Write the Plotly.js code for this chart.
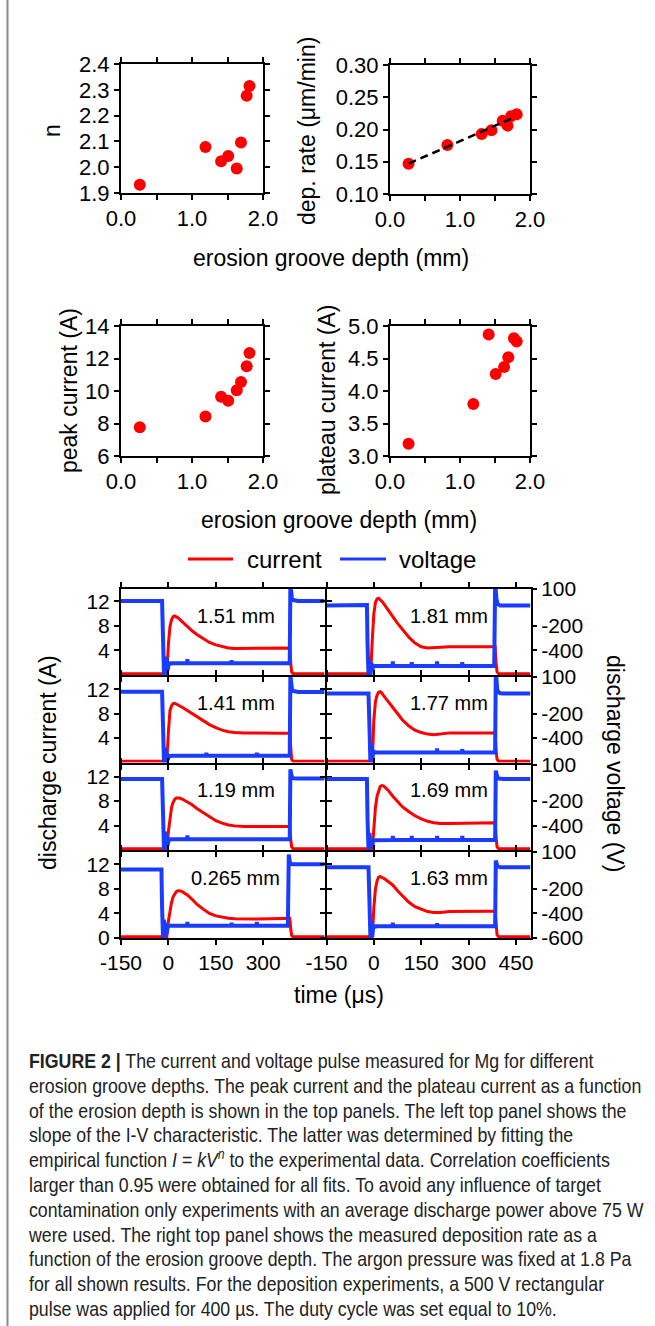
<!DOCTYPE html>
<html><head><meta charset="utf-8">
<script src="https://cdn.plot.ly/plotly-3.0.1.min.js"></script>
<style>
html,body{margin:0;padding:0;background:#fff;}
#wrap{position:relative;width:655px;height:1326px;overflow:hidden;}
#chart{position:absolute;left:0;top:0;width:655px;height:1326px;}
#caption{position:absolute;left:29px;top:1049px;width:700px;font-family:"Liberation Sans",Arial,sans-serif;font-size:21px;line-height:24.8px;color:#222;}
#caption div{white-space:nowrap;height:24.8px;transform:scaleX(0.845);transform-origin:0 50%;}
#caption sup{font-size:14px;line-height:0;vertical-align:0.55em;}
</style>
</head><body><div id="wrap"><div id="chart"></div><div id="caption"></div></div>
<script>
// ---------- scatter panel data ----------
const depth = [0.265, 1.19, 1.41, 1.51, 1.63, 1.69, 1.77, 1.81];
const nExponent = [1.932, 2.078, 2.023, 2.043, 1.995, 2.096, 2.277, 2.315];
const peakCurrent = [7.77, 8.43, 9.65, 9.4, 10.05, 10.56, 11.53, 12.34];
const plateauCurrent = [3.19, 3.80, 4.87, 4.26, 4.37, 4.52, 4.81, 4.76];
const depDepth = [0.265, 0.82, 1.31, 1.45, 1.61, 1.68, 1.73, 1.81];
const depRate = [0.147, 0.176, 0.193, 0.199, 0.2135, 0.206, 0.2206, 0.2237];
const fitX = [0.265, 1.78];
const fitY = [0.147, 0.219];

// ---------- pulse waveform data ----------
const pulseLabels = ['1.51 mm','1.81 mm','1.41 mm','1.77 mm','1.19 mm','1.69 mm','0.265 mm','1.63 mm'];
const tCur = [-150,-10,-5,0,5,10,15,20,25,30,35,45,60,75,90,110,130,150,170,190,210,240,280,320,360,384,387,390,395,495];
const cur151 = [0.2,0.2,0.2,5.0,7.9,9.0,9.5,9.6,9.5,9.3,9.1,8.6,7.9,7.2,6.6,5.9,5.3,4.9,4.6,4.4,4.3,4.3,4.3,4.35,4.4,4.4,2.0,0.5,0.2,0.2];
const cur181 = [0.2,0.2,5.8,10.0,11.8,12.4,12.5,12.3,12.0,11.7,11.3,10.6,9.5,8.4,7.4,6.2,5.2,4.6,4.4,4.45,4.55,4.6,4.6,4.6,4.6,4.6,2.0,0.5,0.2,0.2];
const cur141 = [0.2,0.2,0.2,5.0,8.5,9.3,9.65,9.7,9.6,9.5,9.3,9.0,8.5,8.0,7.5,6.9,6.2,5.7,5.3,5.05,4.9,4.85,4.8,4.85,4.8,4.8,2.0,0.5,0.2,0.2];
const cur177 = [0.2,0.2,0.2,7.0,10.0,11.0,11.5,11.6,11.4,11.0,10.7,10.0,9.0,7.9,7.0,6.0,5.3,4.9,4.65,4.55,4.7,4.85,4.85,4.85,4.85,4.85,2.0,0.5,0.2,0.2];
const cur119 = [0.2,0.2,0.2,3.0,5.5,7.0,7.8,8.3,8.5,8.55,8.5,8.3,7.9,7.4,6.8,6.1,5.4,4.8,4.4,4.1,3.95,3.85,3.85,3.85,3.85,3.85,1.8,0.5,0.2,0.2];
const cur169 = [0.2,0.2,0.2,3.5,7.0,8.8,9.8,10.4,10.55,10.5,10.3,9.8,8.8,7.9,7.1,6.3,5.6,5.1,4.7,4.45,4.35,4.35,4.4,4.45,4.45,4.45,2.0,0.5,0.2,0.2];
const cur0265 = [0.2,0.2,0.2,2.75,4.5,5.8,6.7,7.2,7.55,7.7,7.7,7.5,7.0,6.3,5.5,4.7,4.0,3.6,3.35,3.2,3.15,3.1,3.1,3.15,3.2,3.2,1.5,0.4,0.2,0.2];
const cur163 = [0.2,0.2,0.2,5.0,8.0,9.3,9.9,10.0,9.9,9.8,9.6,9.2,8.6,7.7,6.9,5.85,5.1,4.65,4.3,4.15,4.15,4.3,4.35,4.35,4.35,4.35,2.0,0.5,0.2,0.2];

const tVolt = [-150,-22,-20,-17,-14,-11,-8,-5,-2,1,5,10,59,60,61,119,120,121,199,200,201,279,280,281,378,381,384,386,388,391,395,400,410,495];
const volt151 = [2,2,2,-300,-600,-450,-590,-470,-560,-500,-510,-505, -505,-470,-505, -505,-505,-505, -505,-480,-505, -505,-505,-505, -505,-505,-505,150,40,20,10,5,2,2];
const volt181 = [-35,-30,-350,-600,-480,-600,-500,-560,-525,-530,-526,-526, -526,-490,-526, -526,-495,-526, -526,-490,-526, -526,-495,-526, -526,-526,150,60,20,-20,-30,-35,-35,-35];
const volt141 = [-20,-20,-20,-300,-600,-480,-600,-520,-580,-545,-550,-545, -545,-545,-545, -545,-520,-545, -545,-545,-545, -545,-520,-545, -545,-545,-545,120,30,0,-15,-20,-22,-22];
const volt177 = [-36,-36,-36,-36,-300,-600,-450,-590,-500,-520,-518,-518, -518,-518,-518, -518,-518,-518, -518,-485,-518, -518,-490,-518, -518,-518,-518,150,40,-10,-25,-33,-36,-36];
const volt119 = [-18,-18,-18,-300,-600,-450,-590,-480,-560,-510,-515,-512, -512,-480,-512, -512,-512,-512, -512,-512,-512, -512,-512,-512, -512,-512,-512,60,10,-5,-12,-15,-15,-15];
const volt169 = [-18,-18,-350,-600,-460,-590,-500,-560,-520,-520,-519,-519, -519,-485,-519, -519,-485,-519, -519,-485,-519, -519,-485,-519, -519,-519,-519,50,10,-5,-15,-18,-18,-18];
const volt0265 = [-43,-43,-350,-600,-450,-590,-480,-560,-500,-505,-500,-500, -500,-470,-500, -500,-500,-500, -500,-475,-500, -500,-470,-500, -500,80,20,5,2,0,0,0,0,0];
const volt163 = [-25,-25,-25,-25,-300,-600,-460,-590,-500,-505,-508,-505, -505,-475,-505, -505,-505,-505, -505,-480,-505, -505,-505,-505, -505,-505,-505,30,0,-15,-20,-25,-25,-25];

const currentSeries = [cur151, cur181, cur141, cur177, cur119, cur169, cur0265, cur163];
const voltageSeries = [volt151, volt181, volt141, volt177, volt119, volt169, volt0265, volt163];

const leftTimeTicks = [-150, 0, 150, 300];
const leftTimeText = ['-150', '0', '150', '300'];
const rightTimeTicks = [-150, 0, 150, 300, 450];
const rightTimeText = ['-150', '0', '150', '300', '450'];
const currentTicksTop = [4, 8, 12];
const currentTicksBottom = [0, 4, 8, 12];
const voltageTicksTop = [-400, -200, 100];
const voltageTextTop = ['-400', '-200', '100'];
const voltageTicksBottom = [-600, -400, -200, 100];
const voltageTextBottom = ['-600', '-400', '-200', '100'];

const captionLines = [
  '<b>FIGURE 2 |</b> The current and voltage pulse measured for Mg for different',
  'erosion groove depths. The peak current and the plateau current as a function',
  'of the erosion depth is shown in the top panels. The left top panel shows the',
  'slope of the I-V characteristic. The latter was determined by fitting the',
  'empirical function <i>I</i> = <i>kV<sup>n</sup></i> to the experimental data. Correlation coefficients',
  'larger than 0.95 were obtained for all fits. To avoid any influence of target',
  'contamination only experiments with an average discharge power above 75 W',
  'were used. The right top panel shows the measured deposition rate as a',
  'function of the erosion groove depth. The argon pressure was fixed at 1.8 Pa',
  'for all shown results. For the deposition experiments, a 500 V rectangular',
  'pulse was applied for 400 \u00b5s. The duty cycle was set equal to 10%.'
];

// ---------- styling / layout ----------
const FONT = '"Liberation Sans", Arial, Helvetica, sans-serif';
const RED = '#ff0000', BLUE = 'rgb(25,60,255)';
const W = 655, H = 1326;
const pxX = (a, b) => [a / W, b / W];
const pxY = (top, bottom) => [1 - bottom / H, 1 - top / H];
function tf(size){ return {family:FONT, size:size, color:'#000'}; }

const axBase = {showline:true, linecolor:'#000', linewidth:2, ticks:'outside', ticklen:5, tickwidth:2,
  tickcolor:'#000', mirror:'ticks', showgrid:false, zeroline:false, fixedrange:true};

const layout = {width:W, height:H, margin:{l:0,r:0,t:0,b:0}, paper_bgcolor:'#fff', plot_bgcolor:'rgba(0,0,0,0)',
  showlegend:false, font:{family:FONT, color:'#000'}, shapes:[], annotations:[]};
const data = [];

// scatter panels
const scat = [
  {id:1, xd:pxX(121,263), yd:pxY(64,193), yr:[1.9,2.4], dt:0.1, fmt:'.1f', x:depth, y:nExponent},
  {id:2, xd:pxX(390,530), yd:pxY(65,194), yr:[0.1,0.3], dt:0.05, fmt:'.2f', x:depDepth, y:depRate},
  {id:3, xd:pxX(121,263), yd:pxY(326,456), yr:[6,14], dt:2, fmt:'d', x:depth, y:peakCurrent},
  {id:4, xd:pxX(390,530), yd:pxY(326,456), yr:[3,5], dt:0.5, fmt:'.1f', x:depth, y:plateauCurrent}
];
scat.forEach(p => {
  const s = p.id === 1 ? '' : p.id;
  layout['xaxis'+s] = Object.assign({}, axBase, {domain:p.xd, anchor:'y'+s, range:[0,2],
    tickmode:'linear', tick0:0, dtick:1, tickformat:'.1f', tickfont:tf(22),
    minor:{dtick:0.5, tick0:0, ticks:'outside', ticklen:5, tickwidth:2, tickcolor:'#000', showgrid:false}});
  layout['yaxis'+s] = Object.assign({}, axBase, {domain:p.yd, anchor:'x'+s, range:p.yr,
    tickmode:'linear', tick0:p.yr[0], dtick:p.dt, tickformat:p.fmt, tickfont:tf(22)});
  data.push({type:'scatter', mode:'markers', x:p.x, y:p.y, xaxis:'x'+s, yaxis:'y'+s,
    marker:{color:RED, size:12}, cliponaxis:false});
});
data.push({type:'scatter', mode:'lines', x:fitX, y:fitY, xaxis:'x2', yaxis:'y2',
  line:{color:'#000', width:2.5, dash:'8px,5px'}});

// waveform panels
const rowTop = [589, 677, 764.5, 852];
const rowBot = [675, 762.5, 850, 938];
const colL = [[121, 324.5], [326.5, 531]];
const colRange = [[-150, 494], [-150, 497.5]];
const labelPos = [[236,616],[449,616],[236,703],[449,703],[236,790],[449,790],[235,878],[449,878]];
for (let k = 0; k < 8; k++) {
  const row = Math.floor(k / 2), col = k % 2;
  const xi = 5 + k, yi = 5 + k, vi = 13 + k;
  const bottom = row === 3;
  layout['xaxis'+xi] = Object.assign({}, axBase, {domain:pxX(colL[col][0], colL[col][1]), anchor:'y'+yi,
    range:colRange[col], tickvals: col === 0 ? leftTimeTicks : rightTimeTicks,
    ticktext: col === 0 ? leftTimeText : rightTimeText,
    showticklabels:bottom, tickfont:tf(21)});
  const ct = bottom ? currentTicksBottom : currentTicksTop;
  layout['yaxis'+yi] = Object.assign({}, axBase, {domain:pxY(rowTop[row], rowBot[row]), anchor:'x'+xi,
    range:[0,14], tickvals:ct, ticktext:ct.map(String),
    showticklabels: col === 0, mirror: col === 0 ? 'ticks' : true, tickfont:tf(21)});
  if (col === 0) {
    layout['yaxis'+vi] = {overlaying:'y'+yi, anchor:'x'+xi, range:[-600,100], visible:false, fixedrange:true};
  } else {
    layout['yaxis'+vi] = {overlaying:'y'+yi, anchor:'x'+xi, side:'right', range:[-600,100],
      tickvals: bottom ? voltageTicksBottom : voltageTicksTop,
      ticktext: bottom ? voltageTextBottom : voltageTextTop,
      ticks:'outside', ticklen:5, tickwidth:2, tickcolor:'#000', showline:false, showgrid:false,
      zeroline:false, fixedrange:true, tickfont:tf(21)};
  }
  data.push({type:'scatter', mode:'lines', x:tCur, y:currentSeries[k], xaxis:'x'+xi, yaxis:'y'+yi,
    line:{color:RED, width:3}, name:'current'});
  data.push({type:'scatter', mode:'lines', x:tVolt, y:voltageSeries[k], xaxis:'x'+xi, yaxis:'y'+vi,
    line:{color:BLUE, width:4}, name:'voltage'});
  layout.annotations.push({xref:'paper', yref:'paper', x:labelPos[k][0]/W, y:1-labelPos[k][1]/H,
    text:pulseLabels[k], showarrow:false, xanchor:'center', yanchor:'middle', font:tf(20)});
}

// axis titles
function ann(text, x, y, size, angle, extra) {
  layout.annotations.push(Object.assign({xref:'paper', yref:'paper', x:x/W, y:1-y/H, text:text, showarrow:false,
    xanchor:'center', yanchor:'middle', textangle:angle||0, font:tf(size)}, extra||{}));
}
ann('n', 52, 131, 23, -90);
ann('dep. rate (\u03bcm/min)', 307, 131, 23, -90);
ann('peak current (A)', 69, 391, 23, -90);
ann('plateau current (A)', 327, 400, 23, -90);
ann('erosion groove depth (mm)', 331, 258, 23, 0);
ann('erosion groove depth (mm)', 339, 520, 23, 0);
ann('discharge current (A)', 48, 763, 23, -90);
ann('discharge voltage (V)', 615, 763, 23, 90);
ann('time (\u03bcs)', 339, 995, 23, 0);

// legend
layout.shapes.push({type:'line', xref:'paper', yref:'paper', x0:188/W, x1:233/W, y0:1-559/H, y1:1-559/H, line:{color:RED, width:3}});
layout.shapes.push({type:'line', xref:'paper', yref:'paper', x0:340/W, x1:386/W, y0:1-559/H, y1:1-559/H, line:{color:BLUE, width:3}});
ann('current', 245, 559, 24, 0, {xanchor:'left'});
ann('voltage', 397, 559, 24, 0, {xanchor:'left'});

// left frame line
layout.shapes.push({type:'line', xref:'paper', yref:'paper', x0:7.5/W, x1:7.5/W, y0:0, y1:1, line:{color:'#8a8a8a', width:2}});

Plotly.newPlot('chart', data, layout, {displayModeBar:false, staticPlot:true});

// caption text
const cap = document.getElementById('caption');
captionLines.forEach(t => { const d = document.createElement('div'); d.innerHTML = t; cap.appendChild(d); });
</script></body></html>
